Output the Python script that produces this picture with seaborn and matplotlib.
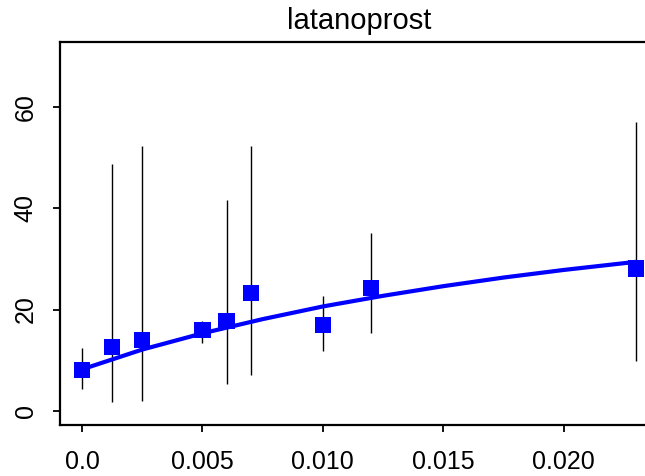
import numpy as np
import pandas as pd
import seaborn as sns
import matplotlib.pyplot as plt

# Observed points (dose, response) with error bar limits.
dose = [0.0, 0.00125, 0.0025, 0.005, 0.006, 0.007, 0.010, 0.012, 0.023]
resp = [8.0, 12.6, 13.9, 15.9, 17.7, 23.3, 16.9, 24.3, 28.1]
lower = [4.3, 1.7, 1.9, 13.4, 5.3, 7.1, 11.8, 15.3, 9.9]
upper = [12.4, 48.7, 52.2, 17.7, 41.7, 52.2, 22.6, 35.0, 56.9]

# Fitted curve.
fit_dose = [0.0, 0.0025, 0.005, 0.0075, 0.010, 0.0125, 0.015, 0.0175, 0.020, 0.023]
fit_resp = [8.2, 12.1, 15.3, 18.1, 20.6, 22.7, 24.6, 26.3, 27.8, 29.4]

xticks = [0.0, 0.005, 0.010, 0.015, 0.020]
xticklabels = ["0.0", "0.005", "0.010", "0.015", "0.020"]
yticks = [0, 20, 40, 60]

sns.set_style("white", rc={"text.color": "black", "xtick.color": "black",
                           "ytick.color": "black", "axes.labelcolor": "black"})
plt.rcParams["font.family"] = ["Liberation Sans", "DejaVu Sans"]

pts = pd.DataFrame({"dose": dose, "resp": resp})
fit = pd.DataFrame({"dose": fit_dose, "resp": fit_resp})

fig = plt.figure(figsize=(6.45, 4.76), dpi=100)
ax = fig.add_axes([0.093, 0.107, 0.927, 0.805])

ax.vlines(dose, lower, upper, color="black", linewidth=1.0, zorder=1)
sns.lineplot(data=fit, x="dose", y="resp", color="#0000ff", linewidth=3.0,
             ax=ax, zorder=2)
sns.scatterplot(data=pts, x="dose", y="resp", marker="s", s=135,
                color="#0000ff", edgecolor="none", ax=ax, zorder=3,
                clip_on=False)

ax.set_xlim(-0.00092, 0.02392)
ax.set_ylim(-2.8, 72.8)
ax.set_xticks(xticks)
ax.set_xticklabels(xticklabels)
ax.set_yticks(yticks)
ax.set_xlabel("")
ax.set_ylabel("")
ax.set_title("latanoprost", fontsize=21, pad=9, color="black")

for s in ["left", "bottom", "top", "right"]:
    ax.spines[s].set_linewidth(1.6)
    ax.spines[s].set_color("black")

ax.tick_params(axis="both", which="both", direction="out", length=5,
               width=1.3, color="black", labelcolor="black", labelsize=18,
               left=True, bottom=True)
ax.tick_params(axis="x", pad=13)
ax.tick_params(axis="y", pad=11)
plt.setp(ax.get_yticklabels(), rotation=90, va="center")

fig.savefig("out.png", dpi=100)
